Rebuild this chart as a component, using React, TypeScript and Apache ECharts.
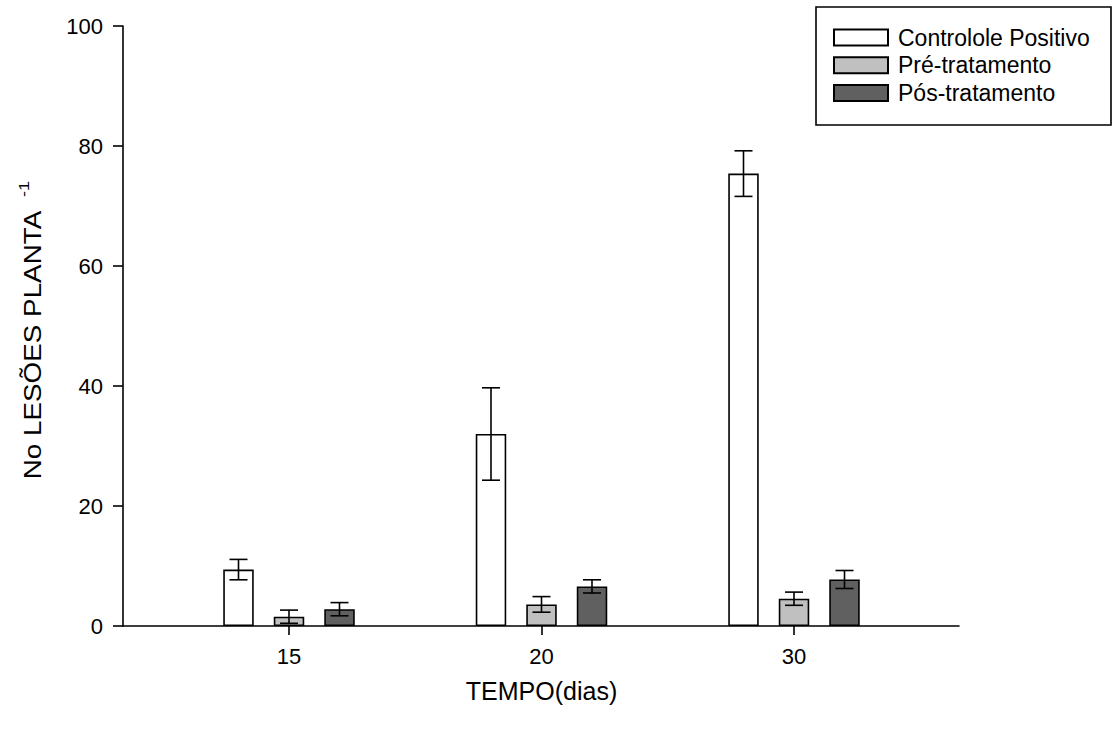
import React, { useEffect, useRef } from "react";
import * as echarts from "echarts";

const categories = ["15", "20", "30"];
const seriesNames = ["Controlole Positivo", "Pré-tratamento", "Pós-tratamento"];
const controleValues = [9.4, 32.0, 75.4];
const controleErrors = [1.7, 7.7, 3.8];
const preValues = [1.55, 3.6, 4.55];
const preErrors = [1.1, 1.3, 1.1];
const posValues = [2.8, 6.6, 7.75];
const posErrors = [1.1, 1.1, 1.5];
const yTickValues = [0, 20, 40, 60, 80, 100];
const xTitle = "TEMPO(dias)";
const yTitle = "No LESÕES PLANTA";
const yTitleSup = "-1";

const FONT = "'Liberation Sans', Arial, Helvetica, sans-serif";
const colors = ["#ffffff", "#c0c0c0", "#606060"];
const offsets = [-50.5, 0, 50.5];

function errorData(values: number[], errors: number[]) {
  return values.map((v, i) => [i, v - errors[i], v + errors[i]]);
}

function makeErrorSeries(values: number[], errors: number[], offset: number) {
  return {
    type: "custom",
    xAxisIndex: 1,
    yAxisIndex: 1,
    z: 5,
    silent: true,
    data: errorData(values, errors),
    renderItem: (params: any, api: any) => {
      const x = api.value(0);
      const lo = api.coord([x, api.value(1)]);
      const hi = api.coord([x, api.value(2)]);
      const cx = lo[0] + offset;
      const hw = 9;
      const style = { stroke: "#000", lineWidth: 1.6 };
      return {
        type: "group",
        children: [
          { type: "line", shape: { x1: cx, y1: lo[1], x2: cx, y2: hi[1] }, style },
          { type: "line", shape: { x1: cx - hw, y1: hi[1], x2: cx + hw, y2: hi[1] }, style },
          { type: "line", shape: { x1: cx - hw, y1: lo[1], x2: cx + hw, y2: lo[1] }, style },
        ],
      };
    },
  };
}

export default function App() {
  const ref = useRef<HTMLDivElement>(null);
  useEffect(() => {
    if (!ref.current) return;
    const chart = echarts.init(ref.current, undefined, { renderer: "svg" });
    const barData = [controleValues, preValues, posValues];
    const errData = [controleErrors, preErrors, posErrors];
    const option: any = {
      animation: false,
      backgroundColor: "#ffffff",
      textStyle: { fontFamily: FONT },
      grid: [
        { left: 123, right: 153, top: 26, bottom: 107 },
        { left: 162.75, width: 757.5, top: 26, bottom: 107 },
      ],
      xAxis: [
        {
          type: "value",
          gridIndex: 0,
          min: 0,
          max: 1,
          axisLine: { show: true, onZero: false, lineStyle: { color: "#000", width: 1.6 } },
          axisTick: { show: false },
          axisLabel: { show: false },
          splitLine: { show: false },
        },
        {
          type: "category",
          gridIndex: 1,
          data: categories,
          boundaryGap: true,
          name: xTitle,
          nameLocation: "middle",
          nameGap: 52,
          nameTextStyle: { fontSize: 25, color: "#000", fontFamily: FONT },
          axisLine: { show: false },
          axisTick: { show: true, alignWithLabel: true, length: 9, lineStyle: { color: "#000", width: 1.6 } },
          axisLabel: { fontSize: 22, color: "#000", margin: 19, fontFamily: FONT },
          splitLine: { show: false },
        },
      ],
      yAxis: [
        {
          type: "value",
          gridIndex: 0,
          min: 0,
          max: 100,
          interval: 20,
          axisLine: { show: true, lineStyle: { color: "#000", width: 1.6 } },
          axisTick: { show: true, length: 10, lineStyle: { color: "#000", width: 1.6 } },
          axisLabel: {
            fontSize: 22,
            color: "#000",
            margin: 20,
            fontFamily: FONT,
            formatter: (v: number) => (yTickValues.includes(v) ? String(v) : ""),
          },
          splitLine: { show: false },
        },
        {
          type: "value",
          gridIndex: 1,
          min: 0,
          max: 100,
          show: false,
          splitLine: { show: false },
        },
      ],
      legend: {
        orient: "vertical",
        left: 833,
        top: 26,
        z: 10,
        padding: 0,
        icon: "rect",
        itemWidth: 54,
        itemHeight: 16,
        itemGap: 4.8,
        selectedMode: false,
        data: seriesNames,
        textStyle: { fontSize: 23, color: "#000", fontFamily: FONT, lineHeight: 16, padding: [0, 0, 0, 5] },
      },
      graphic: [
        {
          type: "rect",
          z: 1,
          shape: { x: 816, y: 7, width: 295, height: 118 },
          style: { fill: "#fff", stroke: "#000", lineWidth: 1.6 },
        },
        {
          type: "text",
          x: 33,
          y: 345,
          rotation: Math.PI / 2,
          scaleX: 1.21,
          style: {
            text: yTitle,
            fontSize: 23,
            fontFamily: FONT,
            fill: "#000",
            align: "center",
            verticalAlign: "middle",
          },
        },
        {
          type: "text",
          x: 24,
          y: 189,
          rotation: Math.PI / 2,
          scaleX: 1.2,
          style: {
            text: yTitleSup,
            fontSize: 15,
            fontFamily: FONT,
            fill: "#000",
            align: "center",
            verticalAlign: "middle",
          },
        },
      ],
      series: [
        ...seriesNames.map((name, i) => ({
          type: "bar",
          name,
          xAxisIndex: 1,
          yAxisIndex: 1,
          barWidth: 30.5,
          barGap: "65.6%",
          data: barData[i],
          itemStyle: { color: colors[i], borderColor: "#000", borderWidth: 1.6 },
        })),
        ...seriesNames.map((_, i) => makeErrorSeries(barData[i], errData[i], offsets[i])),
      ],
    };
    chart.setOption(option);
    return () => chart.dispose();
  }, []);
  return <div ref={ref} style={{ width: 1112, height: 733, position: "absolute", left: 0, top: 0 }} />;
}
